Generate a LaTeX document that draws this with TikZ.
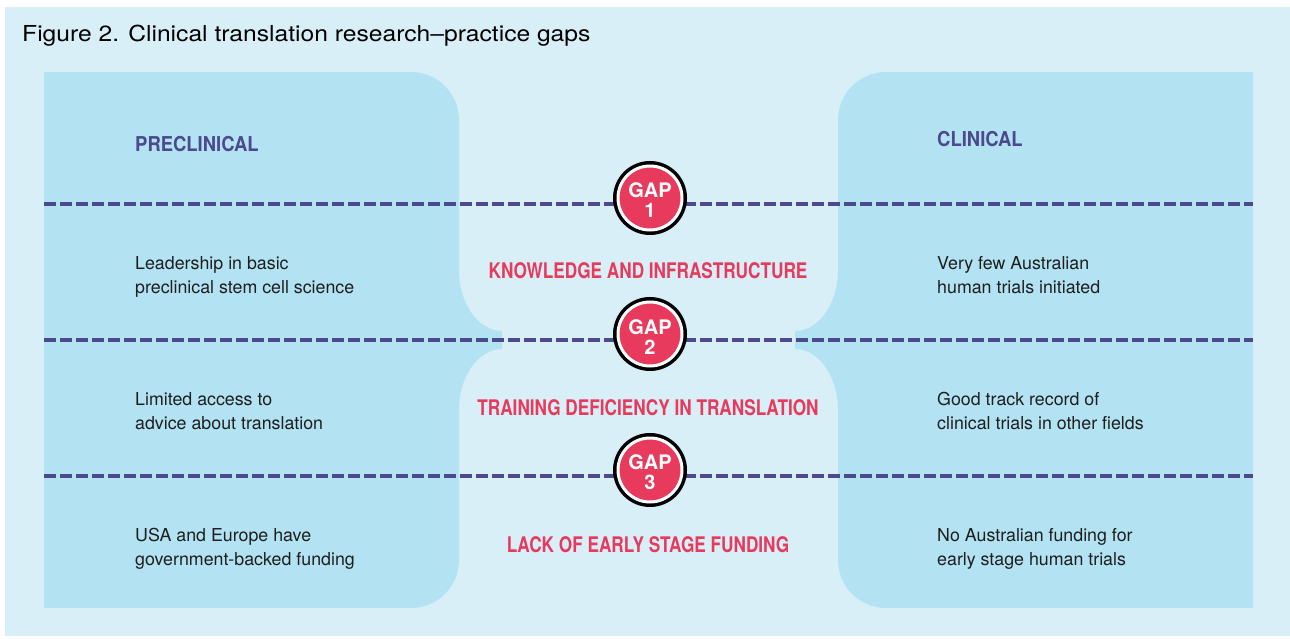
\documentclass[tikz,border=0pt]{standalone}
\usepackage{fontspec}
\setmainfont{TeX Gyre Heros}
\newfontfamily\titlef[FakeStretch=1.12]{TeX Gyre Heros}
\newfontfamily\bodyf{TeX Gyre Heros}
\newfontfamily\headf[FakeStretch=0.9]{TeX Gyre Heros}
\newfontfamily\redf[FakeStretch=0.8]{TeX Gyre Heros}
\newfontfamily\gapf{TeX Gyre Heros}
\definecolor{bgblue}{HTML}{D9EFF8}
\definecolor{panelblue}{HTML}{B3E2F3}
\definecolor{purp}{HTML}{4B4A8C}
\definecolor{gapred}{HTML}{E83A5C}
\definecolor{txt}{HTML}{1E1E1E}
\begin{document}
\begin{tikzpicture}[x=1pt,y=-1pt,
 panel/.style={fill=panelblue},
 dashline/.style={draw=purp, line width=4pt, dash pattern=on 12pt off 4pt},
 gapc/.style={circle, minimum size=64pt, inner sep=0pt, fill=gapred, draw=white, line width=3pt,
   preaction={draw=black, line width=10pt}, text=white, align=center,
   font=\gapf\bfseries\fontsize{20}{20}\selectfont},
 body/.style={anchor=base west, align=left, text=txt, inner sep=0pt,
   font=\bodyf\fontsize{17.8}{23.5}\selectfont},
 head/.style={anchor=base west, inner sep=0pt, text=purp,
   font=\headf\bfseries\fontsize{20.5}{24}\selectfont},
 redlab/.style={anchor=base, inner sep=0pt, text=gapred,
   font=\redf\bfseries\fontsize{21.5}{24}\selectfont}]
\useasboundingbox (0,0) rectangle (1290,639);
\fill[white] (0,0) rectangle (1290,639);
\fill[bgblue] (5,7) rectangle (1290,636);
% left panel
\fill[panel] (44,72) -- (411,72) .. controls (437.5,72) and (459,93.5) .. (459,120)
  -- (459,270) .. controls (459,303.7) and (478.3,331) .. (502,331)
  -- (502,349) .. controls (478.3,349) and (459,376.3) .. (459,410)
  -- (459,560) .. controls (459,586.5) and (437.5,608) .. (411,608)
  -- (44,608) -- cycle;
% right panel
\fill[panel] (1253,72) -- (886,72) .. controls (859.5,72) and (838,93.5) .. (838,120)
  -- (838,270) .. controls (838,303.7) and (818.7,331) .. (795,331)
  -- (795,349) .. controls (818.7,349) and (838,376.3) .. (838,410)
  -- (838,560) .. controls (838,586.5) and (859.5,608) .. (886,608)
  -- (1253,608) -- cycle;
% title
\node[anchor=base west, inner sep=0pt, text=black, font=\titlef\fontsize{22}{24}\selectfont] (title) at (22,42) {Figure 2. Clinical translation research–practice gaps};
% headings
\node[head] (pre) at (135,152) {PRECLINICAL};
\node[head] (cli) at (937,147) {CLINICAL};
% dashed lines
\coordinate (l1) at (44,204); \coordinate (r1) at (1253,204);
\coordinate (l2) at (44,340); \coordinate (r2) at (1253,340);
\coordinate (l3) at (44,476); \coordinate (r3) at (1253,476);
\draw[dashline] (l1) -- (r1);
\draw[dashline] (l2) -- (r2);
\draw[dashline] (l3) -- (r3);
% gap circles
\node[gapc] (g1) at (650,198) {\rule{0pt}{20pt}GAP\\1};
\node[gapc] (g2) at (650,334) {\rule{0pt}{20pt}GAP\\2};
\node[gapc] (g3) at (650,470) {\rule{0pt}{20pt}GAP\\3};
% red labels
\node[redlab] (k1) at (648,278) {KNOWLEDGE AND INFRASTRUCTURE};
\node[redlab] (k2) at (648,415) {TRAINING DEFICIENCY IN TRANSLATION};
\node[redlab] (k3) at (648,552) {LACK OF EARLY STAGE FUNDING};
% body text (anchor at baseline of the last line)
\node[body] (a1) at (135,293) {Leadership in basic\\preclinical stem cell science};
\node[body] (a2) at (135,429) {Limited access to\\advice about translation};
\node[body] (a3) at (135,565) {USA and Europe have\\government-backed funding};
\node[body] (b1) at (937,293) {Very few Australian\\human trials initiated};
\node[body] (b2) at (937,429) {Good track record of\\clinical trials in other fields};
\node[body] (b3) at (937,565) {No Australian funding for\\early stage human trials};
\end{tikzpicture}
\end{document}
